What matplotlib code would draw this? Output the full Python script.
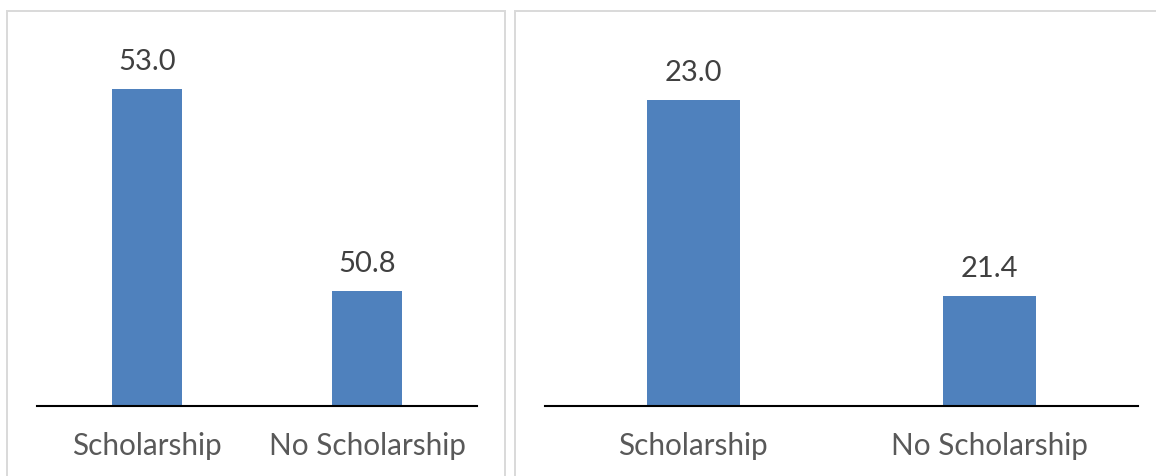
import matplotlib
matplotlib.use("Agg")
import matplotlib.pyplot as plt
from matplotlib.patches import Rectangle

# Data
categories = ["Scholarship", "No Scholarship"]
left_values = [53.0, 50.8]
right_values = [23.0, 21.4]
left_labels = ["53.0", "50.8"]
right_labels = ["23.0", "21.4"]

W, H = 1156, 477
DPI = 100
BAR_COLOR = "#4F81BD"
FONT = ["Lato", "DejaVu Sans"]

fig = plt.figure(figsize=(W / DPI, H / DPI), dpi=DPI)
fig.patch.set_facecolor("white")


def px_to_pt(px):
    return px * 72.0 / DPI


def frame(x0, y0, x1, y1):
    # panel border, pixel coords measured from the top-left
    fig.patches.append(Rectangle((x0 / W, 1 - y1 / H), (x1 - x0) / W, (y1 - y0) / H,
                                 transform=fig.transFigure, fill=False,
                                 edgecolor="#D9D9D9", linewidth=1.4, zorder=0))


def panel(x0, x1, values, labels, ylo, yhi):
    top_px, base_px = 30.0, 406.5
    ax = fig.add_axes([x0 / W, (H - base_px) / H, (x1 - x0) / W, (base_px - top_px) / H])
    xs = list(range(len(categories)))
    ax.bar(xs, values, width=0.314, color=BAR_COLOR, bottom=0, zorder=2)
    ax.set_xlim(-0.5, len(categories) - 0.5)
    ax.set_ylim(ylo, yhi)
    for s in ("top", "left", "right"):
        ax.spines[s].set_visible(False)
    ax.spines["bottom"].set_color("black")
    ax.spines["bottom"].set_linewidth(1.5)
    ax.spines["bottom"].set_zorder(3)
    ax.set_xticks([])
    ax.set_yticks([])
    ax.patch.set_alpha(0)
    for x, v, lab in zip(xs, values, labels):
        ax.annotate(lab, xy=(x, v), xytext=(0, px_to_pt(20)), textcoords="offset points",
                    ha="center", va="baseline", fontsize=21, color="#404040", family=FONT)
    for x, c in zip(xs, categories):
        ax.annotate(c, xy=(x, 0), xycoords=("data", "axes fraction"),
                    xytext=(0, -px_to_pt(48.5)), textcoords="offset points",
                    ha="center", va="baseline", fontsize=21.4, color="#595959", family=FONT)
    return ax


frame(7, 12, 505.5, 490)
frame(515, 12, 1170, 490)

panel(37, 477, left_values, left_labels, 49.56, 53.655)
panel(545, 1138, right_values, right_labels, 20.5, 23.585)

fig.savefig("out.png", dpi=DPI, facecolor="white")
